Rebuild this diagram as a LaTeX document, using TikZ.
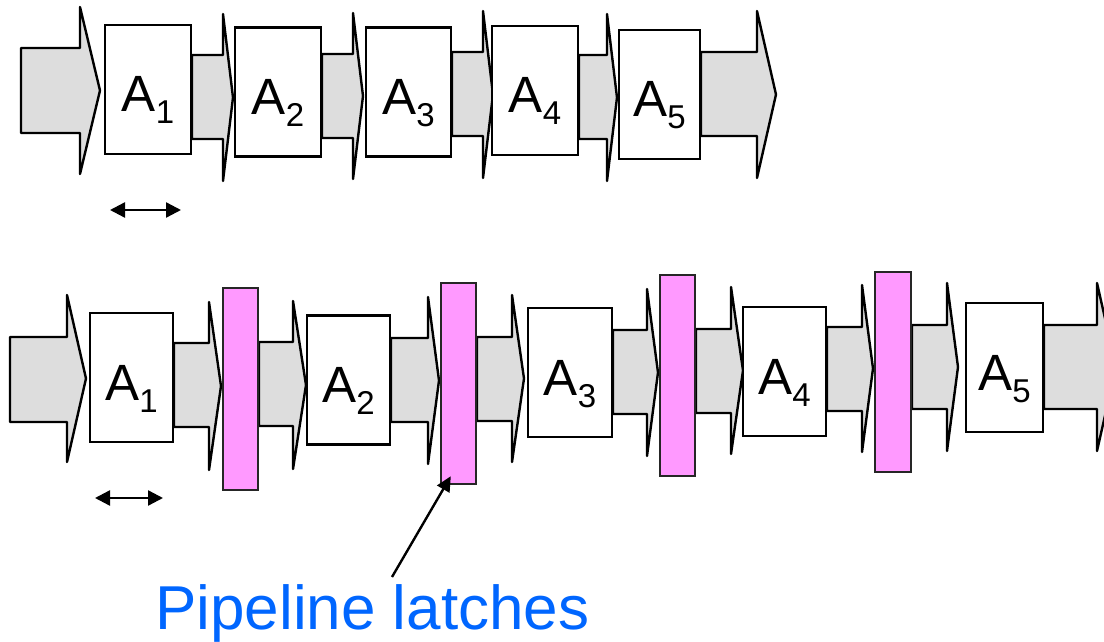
\documentclass[tikz,border=0pt]{standalone}
\usepackage{fontspec}
\setmainfont{Liberation Sans}
\usepackage{xcolor}
\usepackage{tikz}
\usetikzlibrary{arrows.meta}
\definecolor{flowgray}{HTML}{DDDDDD}
\definecolor{latchpink}{HTML}{FF99FF}
\definecolor{noteblue}{HTML}{0066FF}
\tikzset{
  flow/.style={draw, fill=flowgray, line width=2.4pt, line join=round},
  stage/.style={
    draw, fill=white, line width=2.4pt, inner sep=0pt,
    minimum width=86, minimum height=129,
    text height=45pt, text depth=0pt,
    font=\fontsize{51}{51}\selectfont,
  },
  latch/.style={
    draw=black!85, fill=latchpink, line width=2.4pt, inner sep=0pt,
    minimum width=35, minimum height=201,
  },
  period/.style={>={Triangle[length=15pt,width=15pt]}, <->, line width=2.4pt},
  pointer/.style={>={Triangle[length=15pt,width=14pt]}, ->, line width=2.4pt},
}
% block arrow: left x, head x, tip x, body top, body bottom, head top, head bottom, tip y
\newcommand{\flowarrow}[8]{%
  \draw[flow] (#1,#4) -- (#2,#4) -- (#2,#6) -- (#3,#8) -- (#2,#7) -- (#2,#5) -- (#1,#5) -- cycle;}
\newcommand{\stageidx}[1]{\raisebox{-12pt}{\fontsize{33}{33}\selectfont #1}}

\begin{document}
\begin{tikzpicture}[x=1pt, y=-1pt]

  \useasboundingbox (0,0) rectangle (1104,642);
  \clip (0,0) rectangle (1104,642);

  % Data flow, single stage
  \flowarrow{21}{80}{100}{48}{133}{7}{174}{90.5}
  \flowarrow{192}{223}{233}{55}{139}{14}{181}{97.5}
  \flowarrow{322}{353}{363}{54}{138}{13}{179}{96}
  \flowarrow{452}{483}{493}{52}{136}{11}{178}{94.5}
  \flowarrow{579}{607}{617}{55}{139}{14}{181}{97.5}
  \flowarrow{701}{757}{776}{52}{136}{11}{178}{94.5}

  % Data flow, pipelined
  \flowarrow{10}{67}{86}{337}{422}{295}{462}{378.5}
  \flowarrow{174}{209}{221}{343}{427}{302}{470}{386}
  \flowarrow{259}{293}{306}{342}{426}{301}{469}{385}
  \flowarrow{391}{428}{439}{338}{422}{297}{464}{380.5}
  \flowarrow{477}{512}{524}{337}{421}{295}{462}{378.5}
  \flowarrow{613}{647}{658}{330}{414}{289}{456}{372.5}
  \flowarrow{696}{731}{743}{329}{413}{287}{454}{370.5}
  \flowarrow{827}{862}{873}{327}{411}{285}{452}{368.5}
  \flowarrow{912}{947}{958}{325}{409}{283}{451}{367}
  \flowarrow{1044}{1097}{1116}{325}{409}{283}{451}{367}

  % Define nodes
  \node[stage] (s_1) at (148,89.5) {A\stageidx{1}};
  \node[stage] (s_2) at (278,92) {A\stageidx{2}};
  \node[stage, minimum width=85] (s_3) at (408.5,92) {A\stageidx{3}};
  \node[stage] (s_4) at (535,90.5) {A\stageidx{4}};
  \node[stage, minimum width=81] (s_5) at (659.5,94.5) {A\stageidx{5}};

  \node[stage, minimum width=83] (p_1) at (131.5,377.5) {A\stageidx{1}};
  \node[latch, minimum height=202] (l_1) at (240.5,389) {};
  \node[stage, minimum width=83] (p_2) at (348.5,380) {A\stageidx{2}};
  \node[latch] (l_2) at (458.5,383.5) {};
  \node[stage, minimum width=84] (p_3) at (570,372.5) {A\stageidx{3}};
  \node[latch] (l_3) at (677.5,375.5) {};
  \node[stage, minimum width=83] (p_4) at (784.5,371.5) {A\stageidx{4}};
  \node[latch, minimum width=36, minimum height=200] (l_4) at (893,372) {};
  \node[stage, minimum width=77] (p_5) at (1004.5,367.5) {A\stageidx{5}};

  \node[anchor=base west, inner sep=0pt, text=noteblue,
        font=\fontsize{62}{62}\selectfont] (note) at (155,629) {Pipeline latches};

  % Stage delay markers
  \coordinate (d_1l) at (110,210);
  \coordinate (d_1r) at (181,210);
  \coordinate (d_2l) at (95,498);
  \coordinate (d_2r) at (163,498);
  \draw[period] (d_1l) -- (d_1r);
  \draw[period] (d_2l) -- (d_2r);

  % Callout
  \coordinate (tail) at (392,577);
  \draw[pointer] (tail) -- ([shift={(11,-9)}]l_2.south west);

\end{tikzpicture}
\end{document}
